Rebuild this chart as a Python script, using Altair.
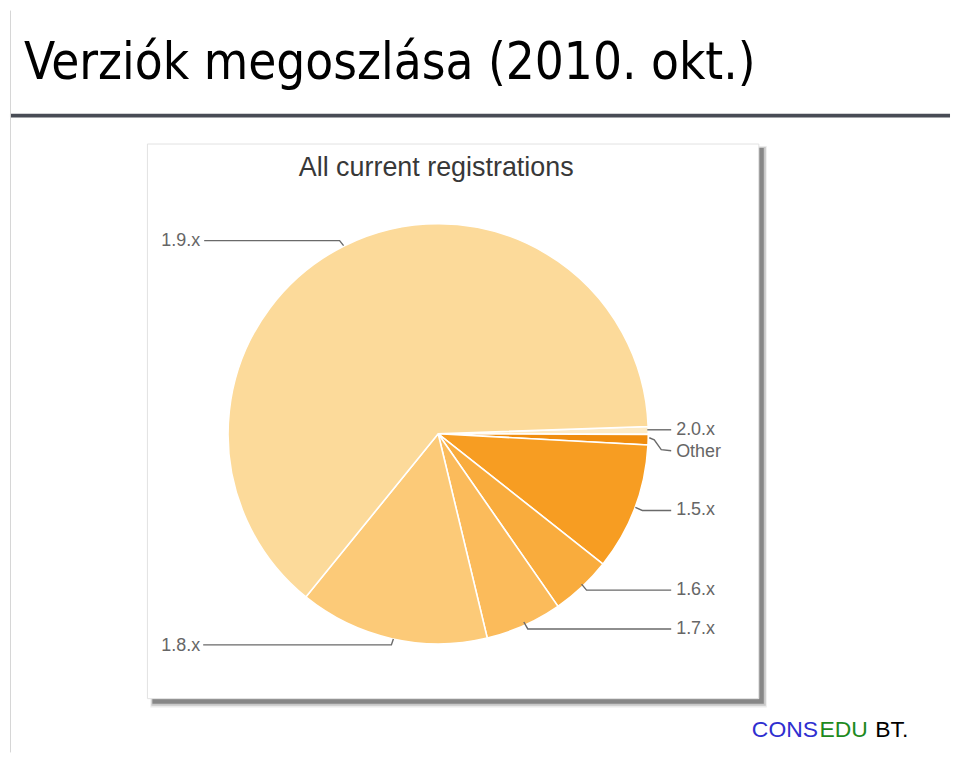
import math
import altair as alt
import pandas as pd

# ---- data ----
versions = ["2.0.x", "Other", "1.5.x", "1.6.x", "1.7.x", "1.8.x", "1.9.x"]
shares = [0.6, 0.8, 9.8, 4.7, 5.9, 14.6, 63.6]
slice_colors = ["#FDEBC6", "#F08D0E", "#F79D22", "#F9AC3D", "#FBBB5B", "#FCCA78", "#FCDA9A"]

slide_title = "Verziók megoszlása (2010. okt.)"
chart_title = "All current registrations"

# ---- layout (page pixel coordinates) ----
W, H = 944, 745
X0, Y0 = 8, 8
start_deg = 88.0
pie_cx, pie_cy, pie_r = 438, 433, 211

label_x = [677, 677, 677, 677, 677, 160, 160]
label_y = [429, 451, 510, 590, 629, 646, 239]
leader_pts = {
    "2.0.x": [(648, 429), (672, 429)],
    "Other": [(650, 437), (655, 439), (662, 449), (672, 450)],
    "1.5.x": [(636, 507), (643, 510), (672, 510)],
    "1.6.x": [(582, 584), (587, 590), (672, 590)],
    "1.7.x": [(524, 622), (528, 629), (672, 629)],
    "1.8.x": [(393, 639), (391, 645), (202, 645)],
    "1.9.x": [(343, 244), (339, 239), (203, 239)],
}

xs = alt.Scale(domain=[X0, X0 + W], nice=False, zero=False)
ys = alt.Scale(domain=[Y0, Y0 + H], nice=False, zero=False, reverse=True)

# background shapes: shadow + white card
shapes = pd.DataFrame([
    dict(x=149, x2=768, y=144, y2=708, fill="#000000", op=0.08, k=0),
    dict(x=150, x2=767, y=145, y2=706, fill="#000000", op=0.15, k=1),
    dict(x=151, x2=765, y=146, y2=704, fill="#000000", op=0.32, k=2),
    dict(x=146, x2=760, y=142, y2=699, fill="#FFFFFF", op=1.0, k=3),
])
rects = alt.Chart(shapes).mark_rect().encode(
    x=alt.X("x:Q", scale=xs, axis=None),
    x2="x2:Q",
    y=alt.Y("y:Q", scale=ys, axis=None),
    y2="y2:Q",
    color=alt.Color("fill:N", scale=None),
    opacity=alt.Opacity("op:Q", scale=None),
)
card_border = alt.Chart(shapes.iloc[[3]]).mark_rect(fill=None, stroke="#e2e2e2", strokeWidth=1).encode(
    x=alt.X("x:Q", scale=xs, axis=None), x2="x2:Q",
    y=alt.Y("y:Q", scale=ys, axis=None), y2="y2:Q",
)

# divider lines of the slide
lines_df = pd.DataFrame([
    dict(x=X0, x2=X0 + W, y=113.5, y2=113.5, c="#484C55", w=4),
    dict(x=X0 + 0.5, x2=X0 + 0.5, y=Y0, y2=Y0 + H, c="#D6D6D6", w=1),
])
dividers = alt.Chart(lines_df).mark_rule().encode(
    x=alt.X("x:Q", scale=xs, axis=None), x2="x2:Q",
    y=alt.Y("y:Q", scale=ys, axis=None), y2="y2:Q",
    color=alt.Color("c:N", scale=None),
    strokeWidth=alt.StrokeWidth("w:Q", scale=None),
)

# pie
pie_df = pd.DataFrame({"version": versions, "share": shares, "idx": list(range(len(versions)))})
a0 = math.radians(start_deg)
pie = alt.Chart(pie_df).mark_arc(stroke="#FFFFFF", strokeWidth=1.6).encode(
    theta=alt.Theta("share:Q", stack=True, scale=alt.Scale(range=[a0, a0 + 2 * math.pi])),
    color=alt.Color("version:N", scale=alt.Scale(domain=versions, range=slice_colors), legend=None),
    order=alt.Order("idx:Q"),
    x=alt.value(pie_cx - X0),
    y=alt.value(pie_cy - Y0),
    radius=alt.value(pie_r),
)

# leader lines
rows = []
for v, pts in leader_pts.items():
    for i, (px, py) in enumerate(pts):
        rows.append(dict(label=v, i=i, x=px, y=py))
leaders = alt.Chart(pd.DataFrame(rows)).mark_line(color="#6A6A6A", strokeWidth=1.4).encode(
    x=alt.X("x:Q", scale=xs, axis=None),
    y=alt.Y("y:Q", scale=ys, axis=None),
    detail="label:N",
    order="i:Q",
)

# slice labels
lab_df = pd.DataFrame({"text": versions, "x": label_x, "y": label_y})
labels = alt.Chart(lab_df).mark_text(
    align="left", baseline="middle", font="Liberation Sans", fontSize=18, color="#666666"
).encode(
    x=alt.X("x:Q", scale=xs, axis=None),
    y=alt.Y("y:Q", scale=ys, axis=None),
    text="text:N",
)

# texts
txt_df = pd.DataFrame([
    dict(t=slide_title, x=22, y=77, c="#000000", f="DejaVu Sans Condensed", s=51, a="left"),
    dict(t=chart_title, x=436, y=174, c="#383838", f="Liberation Sans", s=27, a="center"),
])
texts = []
for _, r in txt_df.iterrows():
    texts.append(
        alt.Chart(pd.DataFrame([r])).mark_text(
            align=r["a"], baseline="alphabetic", font=r["f"], fontSize=int(r["s"]), color=r["c"]
        ).encode(
            x=alt.X("x:Q", scale=xs, axis=None),
            y=alt.Y("y:Q", scale=ys, axis=None),
            text="t:N",
        )
    )

brand_parts = ["CONS", "EDU", "BT."]
brand_colors = ["#2F2FD0", "#1E8A1E", "#000000"]
brand_x = [753, 821, 877]
brand_df = pd.DataFrame({"t": brand_parts, "c": brand_colors, "x": brand_x, "y": [738] * 3})
brand = alt.Chart(brand_df).mark_text(
    align="left", baseline="alphabetic", font="Liberation Sans", fontSize=23
).encode(
    x=alt.X("x:Q", scale=xs, axis=None),
    y=alt.Y("y:Q", scale=ys, axis=None),
    text="t:N",
    color=alt.Color("c:N", scale=None),
)

chart = alt.layer(
    dividers, rects, card_border, pie, leaders, labels, *texts, brand
).properties(
    width=W, height=H, padding=0
).configure_view(stroke=None)

chart.save("out.html", embed_options={"renderer": "svg", "actions": False})
